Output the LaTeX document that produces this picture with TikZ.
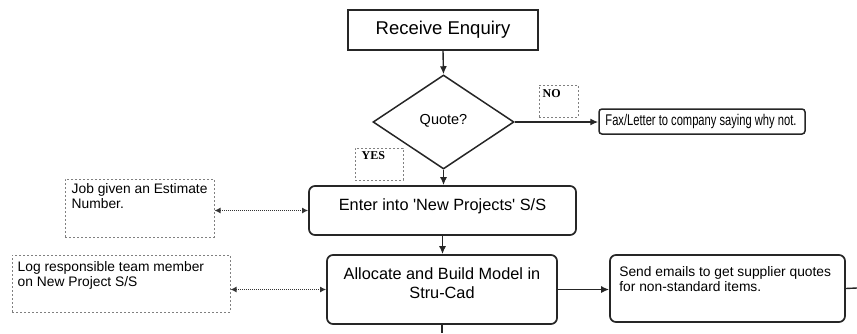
\documentclass[tikz,border=0pt]{standalone}
\usepackage{fontspec}
\setmainfont{Liberation Sans}
\newfontfamily\condfont[FakeStretch=0.72]{Liberation Sans}
\newfontfamily\tagfont{Liberation Serif}
\usetikzlibrary{shapes.geometric,arrows.meta}
\tikzset{
  mainbox/.style={draw=black!85, line width=1.5pt, inner sep=0pt},
  roundbox/.style={mainbox, rounded corners=6pt, line width=1.7pt},
  notebox/.style={draw=black!50, line width=1pt, dash pattern=on 2pt off 2pt, inner sep=0pt},
  flow/.style={draw=black!85, line width=1.4pt, -{Latex[length=8pt,width=7pt]}},
  dotflow/.style={draw=black!80, line width=1.3pt, dash pattern=on 1pt off 1pt, {Latex[length=6pt,width=6pt]}-{Latex[length=6pt,width=6pt]}},
  plain/.style={draw=black!85, line width=1.4pt},
  notetext/.style={font=\fontsize{13.8}{15}\selectfont, align=left, inner sep=0pt, anchor=north west},
  tagtext/.style={font=\tagfont\bfseries\fontsize{12}{12}\selectfont, inner sep=0pt, anchor=north west}
}
\begin{document}
\begin{tikzpicture}[x=1pt,y=-1pt]
\useasboundingbox (0,0) rectangle (857,333);
% main boxes
\node[mainbox, minimum width=190pt, minimum height=40pt, font=\fontsize{18.5}{20}\selectfont] (recv) at (443,30) {Receive Enquiry};
\node[diamond, draw=black!85, line width=1.5pt, minimum width=141pt, minimum height=94pt, inner sep=0pt, font=\fontsize{14.5}{16}\selectfont] (quote) at (443.5,122) {\raisebox{6pt}{Quote?}};
\node[mainbox, rounded corners=3pt, minimum width=206pt, minimum height=25pt] (fax) at (702,121.5) {};
\node[inner sep=0pt, anchor=west, font=\condfont\fontsize{15.5}{16}\selectfont] (faxt) at ([xshift=7pt]fax.west) {Fax/Letter to company saying why not.};
\node[roundbox, minimum width=267pt, minimum height=49pt] (enter) at (442.5,210.5) {};
\node[inner sep=0pt, anchor=base, font=\fontsize{16.3}{18}\selectfont] (entert) at (442.5,210) {Enter into \textquotesingle New Projects\textquotesingle\ S/S};
\node[roundbox, minimum width=230pt, minimum height=69pt] (alloc) at (442,289.5) {};
\node[inner sep=0pt, anchor=north, align=center, font=\fontsize{16.3}{18.5}\selectfont] (allocT) at (442,267.5) {Allocate and Build Model in\\Stru-Cad};
\node[roundbox, minimum width=235pt, minimum height=67pt] (send) at (727.5,288.5) {};
\node[notetext] (sendt) at ([xshift=10pt,yshift=-12pt]send.north west) {Send emails to get supplier quotes\\for non-standard items.};
% note boxes
\node[notebox, minimum width=39pt, minimum height=32pt] (no) at (558.5,101) {};
\node[tagtext] (not) at ([xshift=4pt,yshift=-5pt]no.north west) {NO};
\node[notebox, minimum width=48pt, minimum height=32pt] (yes) at (379,164) {};
\node[tagtext] (yest) at ([xshift=7pt,yshift=-4pt]yes.north west) {YES};
\node[notebox, minimum width=149pt, minimum height=58pt] (job) at (139.5,208) {};
\node[notetext] (jobt) at ([xshift=7pt,yshift=-5pt]job.north west) {Job given an Estimate\\Number.};
\node[notebox, minimum width=218pt, minimum height=57pt] (log) at (121,283.5) {};
\node[notetext] (logt) at ([xshift=6pt,yshift=-7pt]log.north west) {Log responsible team member\\on New Project S/S};
% connectors
\coordinate (outR) at (857,288);
\coordinate (outB) at (442,333);
\draw[flow] (recv.south) -- (quote.north);
\draw[flow] (quote.east) -- (quote.east -| fax.west);
\draw[flow] (quote.south) -- (quote.south |- enter.north);
\draw[flow] (enter.south) -- (enter.south |- alloc.north);
\draw[flow] (alloc.east) -- (alloc.east -| send.west);
\draw[dotflow] (job.east |- enter.west) -- (enter.west);
\draw[dotflow] (log.east |- alloc.west) -- (alloc.west);
\draw[plain] (send.east) -- (outR);
\draw[plain] (alloc.south) -- (outB);
\end{tikzpicture}
\end{document}
